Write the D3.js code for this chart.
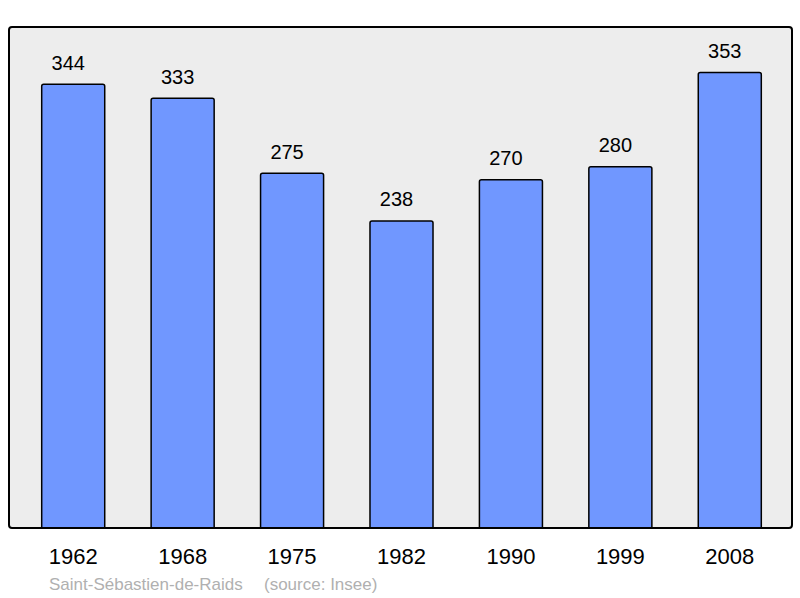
<!DOCTYPE html>
<html>
<head>
<meta charset="utf-8">
<script src="https://cdn.jsdelivr.net/npm/d3@7"></script>
<style>
  body { margin: 0; background: #fff; }
  text { font-family: "Liberation Sans", Arial, sans-serif; }
</style>
</head>
<body>
<div class="canvas"></div>
<script>
const years = ["1962", "1968", "1975", "1982", "1990", "1999", "2008"];
const population = [344, 333, 275, 238, 270, 280, 353];
const commune = "Saint-Sébastien-de-Raids";
const source = "(source: Insee)";

const dims = {width: 800, height: 598};
const frame = {left: 9, top: 27, right: 792, bottom: 528};

const svg = d3.select(".canvas").append("svg")
    .attr("width", dims.width)
    .attr("height", dims.height);

// grey plot background
svg.append("rect")
    .attr("x", frame.left)
    .attr("y", frame.top)
    .attr("width", frame.right - frame.left)
    .attr("height", frame.bottom - frame.top)
    .attr("rx", 3)
    .attr("fill", "#ededed")
    .attr("stroke", "none");

const x = d3.scaleBand()
    .domain(years)
    .range([18.5, 784.5])
    .paddingInner(0.424)
    .paddingOuter(0.212);

const y = d3.scaleLinear()
    .domain([0, d3.max(population) * 1.1])
    .range([frame.bottom, frame.top]);

const graph = svg.append("g");

graph.selectAll("rect.bar")
    .data(population)
    .enter().append("rect")
    .attr("class", "bar")
    .attr("x", (d, i) => x(years[i]))
    .attr("y", d => y(d))
    .attr("width", x.bandwidth())
    .attr("height", d => y(0) - y(d) + 3) // tuck the bottom under the frame
    .attr("rx", 2)
    .attr("fill", "#7097ff")
    .attr("stroke", "#000")
    .attr("stroke-width", 1.5);

// value labels above the bars (sit a little left of centre, like the original)
graph.selectAll("text.value")
    .data(population)
    .enter().append("text")
    .attr("class", "value")
    .attr("x", (d, i) => x(years[i]) + x.bandwidth() / 2 - 5)
    .attr("y", d => y(d) - 14.5)
    .attr("text-anchor", "middle")
    .attr("font-size", 20)
    .attr("fill", "#000")
    .text(d => d);

// frame drawn on top so the bars sit inside it
svg.append("rect")
    .attr("x", frame.left)
    .attr("y", frame.top)
    .attr("width", frame.right - frame.left)
    .attr("height", frame.bottom - frame.top)
    .attr("rx", 3)
    .attr("fill", "none")
    .attr("stroke", "#000")
    .attr("stroke-width", 2);

// white strip under the frame hides the bar ends
svg.append("rect")
    .attr("x", 0)
    .attr("y", frame.bottom + 1)
    .attr("width", dims.width)
    .attr("height", 4)
    .attr("fill", "#fff");

// year labels
const xAxis = d3.axisBottom(x).tickSize(0).tickPadding(0);
const axisGroup = svg.append("g")
    .attr("transform", `translate(0,${frame.bottom})`)
    .call(xAxis);
axisGroup.select(".domain").remove();
axisGroup.selectAll("text")
    .attr("dy", null)
    .attr("y", 36)
    .attr("font-size", 22)
    .attr("font-family", "Liberation Sans, Arial, sans-serif")
    .attr("fill", "#000");

// footer
svg.append("text")
    .attr("x", 49)
    .attr("y", 590)
    .attr("font-size", 17)
    .attr("fill", "#b0b0b0")
    .text(commune);

svg.append("text")
    .attr("x", 264)
    .attr("y", 590)
    .attr("font-size", 17)
    .attr("fill", "#b0b0b0")
    .text(source);
</script>
</body>
</html>
